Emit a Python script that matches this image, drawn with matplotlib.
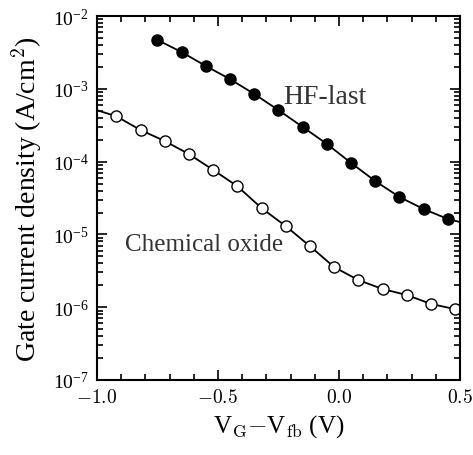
import numpy as np
import matplotlib.pyplot as plt
from matplotlib.ticker import MultipleLocator, LogLocator, NullFormatter

plt.rcParams['mathtext.fontset'] = 'cm'
plt.rcParams['font.family'] = ['Liberation Serif', 'DejaVu Serif']

# HF-last (filled circles)
hf_v = [-0.75, -0.65, -0.55, -0.45, -0.35, -0.25, -0.15, -0.05, 0.05, 0.15, 0.25, 0.35, 0.45]
hf_j = [4.7e-3, 3.2e-3, 2.06e-3, 1.36e-3, 8.5e-4, 5.1e-4, 3.0e-4, 1.75e-4,
        9.6e-5, 5.4e-5, 3.27e-5, 2.23e-5, 1.63e-5]
hf_end = (0.5, 1.48e-5)

# Chemical oxide (open circles)
ch_v = [-0.92, -0.82, -0.72, -0.62, -0.52, -0.42, -0.32, -0.22, -0.12, -0.02,
        0.08, 0.18, 0.28, 0.38, 0.48]
ch_j = [4.2e-4, 2.72e-4, 1.92e-4, 1.27e-4, 7.7e-5, 4.6e-5, 2.3e-5, 1.30e-5,
        6.9e-6, 3.56e-6, 2.36e-6, 1.78e-6, 1.47e-6, 1.11e-6, 9.4e-7]
ch_start = (-1.0, 5.1e-4)

fig = plt.figure(figsize=(4.73, 4.56), dpi=100)
ax = fig.add_axes([0.205, 0.1645, 0.7675, 0.798])

# curves
ax.plot(list(hf_v) + [hf_end[0]], list(hf_j) + [hf_end[1]], color='black', lw=1.3)
ax.plot([ch_start[0]] + list(ch_v), [ch_start[1]] + list(ch_j), color='black', lw=1.3)
ax.plot(hf_v, hf_j, 'o', ms=8, mfc='black', mec='black', mew=1)
ax.plot(ch_v, ch_j, 'o', ms=8, mfc='white', mec='black', mew=1)

ax.set_yscale('log')
ax.set_xlim(-1.0, 0.5)
ax.set_ylim(1e-7, 1e-2)

ax.xaxis.set_major_locator(MultipleLocator(0.5))
ax.xaxis.set_minor_locator(MultipleLocator(0.1))
ax.xaxis.set_major_formatter(plt.FuncFormatter(lambda v, p: f"${v:.1f}$"))
ax.yaxis.set_major_locator(LogLocator(base=10, numticks=10))
ax.yaxis.set_minor_locator(LogLocator(base=10, subs=np.arange(2, 10), numticks=20))
ax.yaxis.set_minor_formatter(NullFormatter())

ax.tick_params(which='both', direction='in', top=True, right=True, labelsize=14, width=1.2)
ax.tick_params(which='major', length=7, pad=6)
ax.tick_params(which='minor', length=4)
for s in ax.spines.values():
    s.set_linewidth(1.5)

ax.set_xlabel(r"V$_{\rm G}$$-$V$_{\rm fb}$ (V)", fontsize=18)
ax.set_ylabel(r"Gate current density (A/cm$^2$)", fontsize=20, labelpad=6)

ax.text(-0.232, 7.9e-4, "HF-last", fontsize=20, va='center', ha='left', color='#333333')
ax.text(-0.884, 7.4e-6, "Chemical oxide", fontsize=18, va='center', ha='left', color='#333333')

fig.savefig('out.png', dpi=100)
